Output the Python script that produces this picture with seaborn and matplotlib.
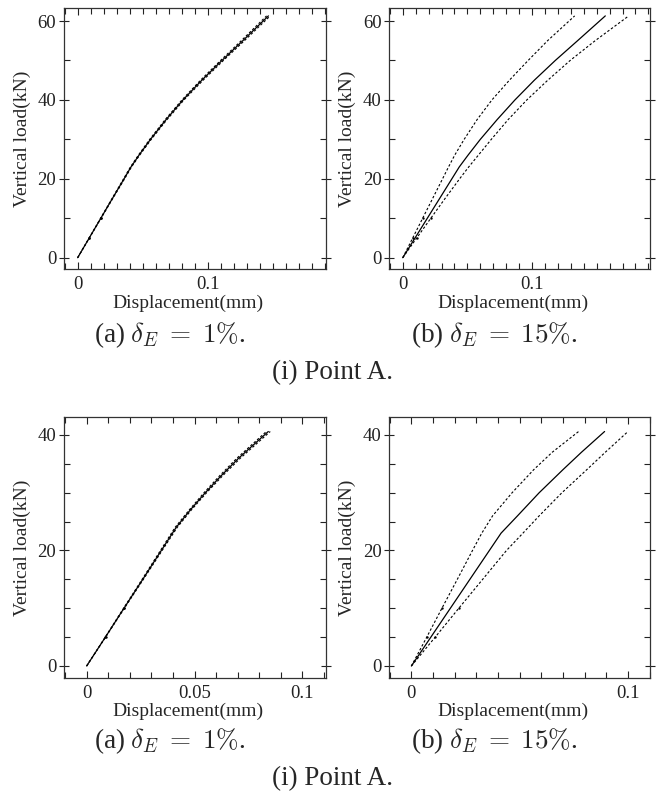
import matplotlib
matplotlib.use("Agg")
import matplotlib.pyplot as plt
import seaborn as sns
import pandas as pd
from matplotlib.ticker import MultipleLocator, FixedLocator

sns.set_theme(style="ticks")
plt.rcParams["font.family"] = ["Liberation Serif", "DejaVu Serif"]
plt.rcParams["mathtext.fontset"] = "cm"

# ---------------- data (displacement mm, load kN) ----------------
# Point A, delta_E = 1%
a1_load = [0, 5, 10, 15, 20, 23, 26, 30, 35, 40, 45, 50, 55, 61.3]
a1_mean = [0, 0.0089, 0.0178, 0.0267, 0.0357, 0.0410, 0.0472, 0.0560, 0.0680, 0.0810, 0.0955, 0.1110, 0.1270, 0.1467]
a1_low = [0, 0.0088, 0.0176, 0.0264, 0.0353, 0.0406, 0.0467, 0.0554, 0.0673, 0.0802, 0.0945, 0.1099, 0.1258, 0.1453]
a1_high = [0, 0.0090, 0.0180, 0.0270, 0.0361, 0.0414, 0.0477, 0.0566, 0.0687, 0.0818, 0.0965, 0.1121, 0.1282, 0.1481]

# Point A, delta_E = 15%
a15_load = [0, 5, 10, 15, 20, 23, 26, 30, 35, 40, 45, 50, 55, 61.3]
a15_mean = [0, 0.0095, 0.0190, 0.0285, 0.0380, 0.0437, 0.0505, 0.0600, 0.0730, 0.0868, 0.1018, 0.1180, 0.1352, 0.1567]
a15_low = [0, 0.0077, 0.0154, 0.0231, 0.0308, 0.0354, 0.0402, 0.0475, 0.0575, 0.0690, 0.0825, 0.0970, 0.1120, 0.1330]
a15_high = [0, 0.0108, 0.0217, 0.0327, 0.0440, 0.0510, 0.0585, 0.0685, 0.0815, 0.0960, 0.1122, 0.1295, 0.1488, 0.1748]

# second Point A figure, delta_E = 1%
b1_load = [0, 5, 10, 15, 20, 24, 27, 30, 33, 36, 40.6]
b1_mean = [0, 0.0087, 0.0173, 0.0260, 0.0346, 0.0415, 0.0480, 0.0550, 0.0625, 0.0705, 0.0842]
b1_low = [0, 0.0086, 0.0171, 0.0257, 0.0342, 0.0410, 0.0475, 0.0544, 0.0618, 0.0697, 0.0833]
b1_high = [0, 0.0088, 0.0175, 0.0263, 0.0350, 0.0420, 0.0485, 0.0556, 0.0632, 0.0713, 0.0851]

# second Point A figure, delta_E = 15%
b15_load = [0, 5, 10, 15, 20, 23, 26, 30, 34, 37, 40.6]
b15_mean = [0, 0.0090, 0.0180, 0.0270, 0.0360, 0.0414, 0.0490, 0.0590, 0.0700, 0.0785, 0.0892]
b15_low = [0, 0.0071, 0.0141, 0.0212, 0.0282, 0.0325, 0.0375, 0.0465, 0.0565, 0.0650, 0.0772]
b15_high = [0, 0.0110, 0.0219, 0.0329, 0.0439, 0.0515, 0.0590, 0.0695, 0.0810, 0.0895, 0.1000]

xlabel = "Displacement(mm)"
ylabel = "Vertical load(kN)"
cap_a = r"(a) $\delta_E\;=\;1\%$."
cap_b = r"(b) $\delta_E\;=\;15\%$."
cap_main = "(i) Point A."

W, H = 664, 796
fig = plt.figure(figsize=(W / 100, H / 100), dpi=100)


def add_ax(l, t, r, b):
    return fig.add_axes([l / W, 1 - b / H, (r - l) / W, (b - t) / H])


panels = [
    dict(box=(64, 8, 326, 269), load=a1_load, m=a1_mean, lo=a1_low, hi=a1_high,
         xlim=(-0.0105, 0.191), ylim=(-2.86, 63.3), xmaj=[0, 0.1], xmin=0.01,
         xt=["0", "0.1"], ymaj=20, ymin=10),
    dict(box=(389.3, 8, 650.3, 269), load=a15_load, m=a15_mean, lo=a15_low, hi=a15_high,
         xlim=(-0.0104, 0.1915), ylim=(-2.86, 63.3), xmaj=[0, 0.1], xmin=0.01,
         xt=["0", "0.1"], ymaj=20, ymin=10),
    dict(box=(64, 417.3, 325.7, 677.7), load=b1_load, m=b1_mean, lo=b1_low, hi=b1_high,
         xlim=(-0.0105, 0.1108), ylim=(-2.03, 43.06), xmaj=[0, 0.05, 0.1], xmin=0.01,
         xt=["0", "0.05", "0.1"], ymaj=20, ymin=5),
    dict(box=(389.3, 417.3, 650.3, 677.7), load=b15_load, m=b15_mean, lo=b15_low, hi=b15_high,
         xlim=(-0.0102, 0.1103), ylim=(-2.03, 43.06), xmaj=[0, 0.1], xmin=0.01,
         xt=["0", "0.1"], ymaj=20, ymin=5),
]

for p in panels:
    ax = add_ax(*p["box"])
    df = pd.DataFrame({"disp": p["m"], "load": p["load"]})
    dlo = pd.DataFrame({"disp": p["lo"], "load": p["load"]})
    dhi = pd.DataFrame({"disp": p["hi"], "load": p["load"]})
    for d in (dlo, dhi):
        sns.lineplot(data=d, x="disp", y="load", ax=ax, color="black", lw=0.8,
                     linestyle=(0, (2.2, 1.8)), sort=False, estimator=None)
        sns.scatterplot(data=d.iloc[1:3], x="disp", y="load", ax=ax, color="black",
                        s=3, marker="o", linewidth=0)
    sns.lineplot(data=df, x="disp", y="load", ax=ax, color="black", lw=0.9,
                 sort=False, estimator=None)
    ax.set_xlim(*p["xlim"])
    ax.set_ylim(*p["ylim"])
    ax.xaxis.set_major_locator(FixedLocator(p["xmaj"]))
    ax.set_xticklabels(p["xt"])
    ax.xaxis.set_minor_locator(MultipleLocator(p["xmin"]))
    ax.yaxis.set_major_locator(MultipleLocator(p["ymaj"]))
    ax.yaxis.set_minor_locator(MultipleLocator(p["ymin"]))
    ax.tick_params(which="both", direction="in", top=True, right=True,
                   labelsize=13.5, colors="#222222", width=0.8)
    ax.tick_params(axis="y", which="major", direction="inout", length=7, pad=2)
    ax.tick_params(axis="x", which="major", length=5, pad=5)
    ax.tick_params(which="minor", length=4)
    for s in ax.spines.values():
        s.set_linewidth(0.9)
        s.set_color("#333333")
    l, t, r, b = p["box"]
    ax.set_xlabel(xlabel, fontsize=14)
    ax.set_ylabel(ylabel, fontsize=14)
    ax.xaxis.set_label_coords(0.475, -34 / (b - t))
    ax.yaxis.set_label_coords(-42 / (r - l), 0.5)
    ax.xaxis.label.set_va("center")
    ax.yaxis.label.set_va("center")

for yc, ym in ((335, 373), (741, 779)):
    fig.text(170 / W, 1 - yc / H, cap_a, fontsize=19.5, ha="center", va="center")
    fig.text(494 / W, 1 - yc / H, cap_b, fontsize=19.5, ha="center", va="center")
    fig.text(332 / W, 1 - ym / H, cap_main, fontsize=19.5, ha="center", va="center")

fig.savefig("out.png", dpi=100)
